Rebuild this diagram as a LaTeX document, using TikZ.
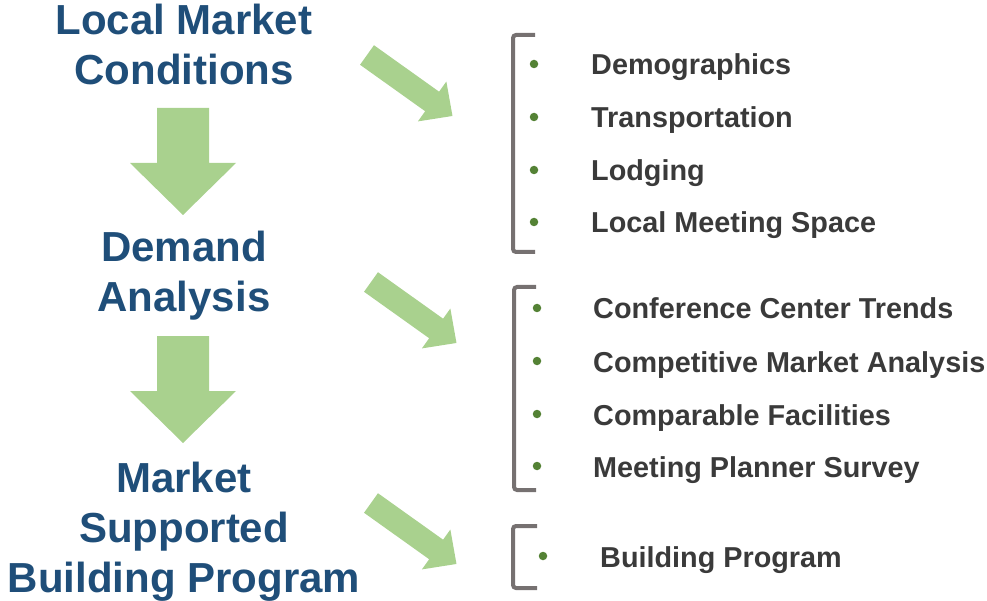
\documentclass[tikz,border=0pt]{standalone}
\usepackage{fontspec}
\setmainfont{Liberation Sans}
\definecolor{titleblue}{HTML}{1F4E79}
\definecolor{itemgray}{HTML}{3A3A3A}
\definecolor{arrowgreen}{HTML}{A9D18E}
\definecolor{bulletgreen}{HTML}{548235}
\definecolor{bracketgray}{HTML}{767171}
\begin{document}
\begin{tikzpicture}[x=1pt,y=-1pt,
  title/.style={font=\fontsize{42}{50}\selectfont\bfseries, text=titleblue,
    align=center, inner sep=0pt, anchor=base},
  item/.style={font=\fontsize{28.8}{34}\selectfont\bfseries, text=itemgray,
    inner sep=0pt, anchor=base west},
  bulletdot/.style={circle, fill=bulletgreen, inner sep=0pt, minimum size=8.5pt},
  bracketline/.style={draw=bracketgray, line width=4pt, rounded corners=3pt},
  downarrow/.pic={\fill[arrowgreen] (-26,0) -- (26,0) -- (26,55) -- (53,55)
      -- (0,107) -- (-53,55) -- (-26,55) -- cycle;},
  slantarrow/.pic={\fill[arrowgreen, rotate=-35.5] (0,12) -- (80,12) -- (80,24.5)
      -- (105,0) -- (80,-24.5) -- (80,-12) -- (0,-12) -- cycle;}
]
\useasboundingbox (0,0) rectangle (987,601);

% stage titles (anchored at the baseline of their last line)
\node[title] (local)  at (184,85)  {Local Market\\Conditions};
\node[title] (demand) at (184,312) {Demand\\Analysis};
\node[title] (market) at (184,592) {Market\\Supported\\Building Program};

% vertical flow arrows
\pic at (183,108) {downarrow};
\pic at (183,336) {downarrow};

% arrows pointing to the detail lists
\pic at (367,55)  {slantarrow};
\pic at (371,282) {slantarrow};
\pic at (371,503) {slantarrow};

% list brackets
\draw[bracketline] (535,35)  -- (513,35)  -- (513,252) -- (535,252);
\draw[bracketline] (536,287) -- (514,287) -- (514,490) -- (536,490);
\draw[bracketline] (537,526) -- (513,526) -- (513,588) -- (537,588);

% first list
\node[bulletdot] (b1) at (534,64)  {};
\node[bulletdot] (b2) at (534,117) {};
\node[bulletdot] (b3) at (534,170) {};
\node[bulletdot] (b4) at (534,222) {};
\node[item] (i1) at (591,75)  {Demographics};
\node[item] (i2) at (591,128) {Transportation};
\node[item] (i3) at (591,181) {Lodging};
\node[item] (i4) at (591,233) {Local Meeting Space};

% second list
\node[bulletdot] (b5) at (537,308) {};
\node[bulletdot] (b6) at (537,361) {};
\node[bulletdot] (b7) at (537,414) {};
\node[bulletdot] (b8) at (537,466) {};
\node[item] (i5) at (593,319) {Conference Center Trends};
\node[item] (i6) at (593,372) {Competitive Market Analysis};
\node[item] (i7) at (593,425) {Comparable Facilities};
\node[item] (i8) at (593,477) {Meeting Planner Survey};

% third list
\node[bulletdot] (b9) at (543,556) {};
\node[item] (i9) at (600,567) {Building Program};
\end{tikzpicture}
\end{document}
